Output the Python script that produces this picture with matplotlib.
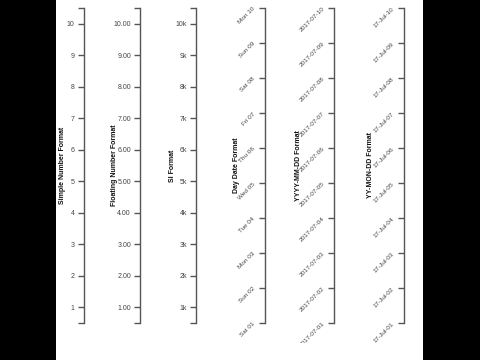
import matplotlib
matplotlib.use("Agg")
import matplotlib.pyplot as plt
import matplotlib.dates as mdates
from matplotlib.patches import Rectangle
from matplotlib.ticker import FixedLocator, FuncFormatter
from matplotlib.transforms import Bbox, TransformedBbox
import datetime as dt

plt.rcParams['font.family'] = ['Liberation Sans', 'DejaVu Sans']

# ---- data ----
numbers = [1, 2, 3, 4, 5, 6, 7, 8, 9, 10]
si_values = [1000, 2000, 3000, 4000, 5000, 6000, 7000, 8000, 9000, 10000]
dates = [dt.datetime(2017, 7, d) for d in range(1, 11)]
titles = ["Simple Number Format", "Floating Number Format", "SI Format",
          "Day Date Format", "YYYY-MM-DD Format", "YY-MON-DD Format"]
date_formats = ['%a %d', '%Y-%m-%d', '%y-%b-%d']

W, H = 480, 360
fig = plt.figure(figsize=(4.8, 3.6), dpi=100)
fig.patch.set_facecolor('white')
fig.patches.append(Rectangle((0, 0), 56 / W, 1, transform=fig.transFigure,
                             facecolor='black', edgecolor='none', zorder=0))
fig.patches.append(Rectangle((423 / W, 0), 1 - 423 / W, 1, transform=fig.transFigure,
                             facecolor='black', edgecolor='none', zorder=0))

clip = TransformedBbox(Bbox([[0, 17 / H], [1, 1]]), fig.transFigure)

axis_x = [83.5, 140, 196, 264.5, 334, 404]
title_x = [63, 115, 172, 237, 299, 370]
top_px, bot_px = 8, 323
ax_bottom = (H - bot_px) / H
ax_height = (bot_px - top_px) / H
AXC = '#555555'
TXC = '#444444'
FS = 5
FS_DATE = 4.6


def make_axis(i):
    ax = fig.add_axes([axis_x[i] / W, ax_bottom, 0.001, ax_height])
    ax.patch.set_visible(False)
    for s in ['top', 'right', 'bottom']:
        ax.spines[s].set_visible(False)
    ax.spines['left'].set_color(AXC)
    ax.spines['left'].set_linewidth(1.0)
    ax.set_xticks([])
    ax.tick_params(axis='y', which='both', length=4, width=1.0, color=AXC,
                   labelsize=FS, labelcolor=TXC, pad=2.5)
    fig.text(title_x[i] / W, (H - (top_px + bot_px) / 2) / H, titles[i],
             rotation=90, ha='center', va='center', fontsize=FS,
             fontweight='bold', color='#111111')
    return ax


# numeric axes
fmts = [lambda v, p: f"{v:.0f}", lambda v, p: f"{v:.2f}", lambda v, p: f"{v/1000:.0f}k"]
vals = [numbers, numbers, si_values]
for i in range(3):
    ax = make_axis(i)
    v = vals[i]
    step = v[1] - v[0]
    ax.set_ylim(v[0] - step / 2, v[-1] + step / 2)
    ax.yaxis.set_major_locator(FixedLocator(v))
    ax.yaxis.set_major_formatter(FuncFormatter(fmts[i]))
    ax.yaxis.set_minor_locator(FixedLocator([v[0] - step / 2, v[-1] + step / 2]))

# date axes
for j in range(3):
    ax = make_axis(3 + j)
    dn = mdates.date2num(dates)
    ax.set_ylim(dn[0], dn[-1])
    ax.yaxis.set_major_locator(FixedLocator(dn))
    ax.yaxis.set_major_formatter(mdates.DateFormatter(date_formats[j]))
    ax.tick_params(axis='y', pad=3.5, labelsize=FS_DATE)
    for lab in ax.get_yticklabels():
        lab.set_rotation(45)
        lab.set_rotation_mode('anchor')
        lab.set_ha('right')
        lab.set_va('center')
        lab.set_clip_box(clip)
        lab.set_clip_on(True)

fig.savefig('out.png', dpi=100, facecolor='white')
